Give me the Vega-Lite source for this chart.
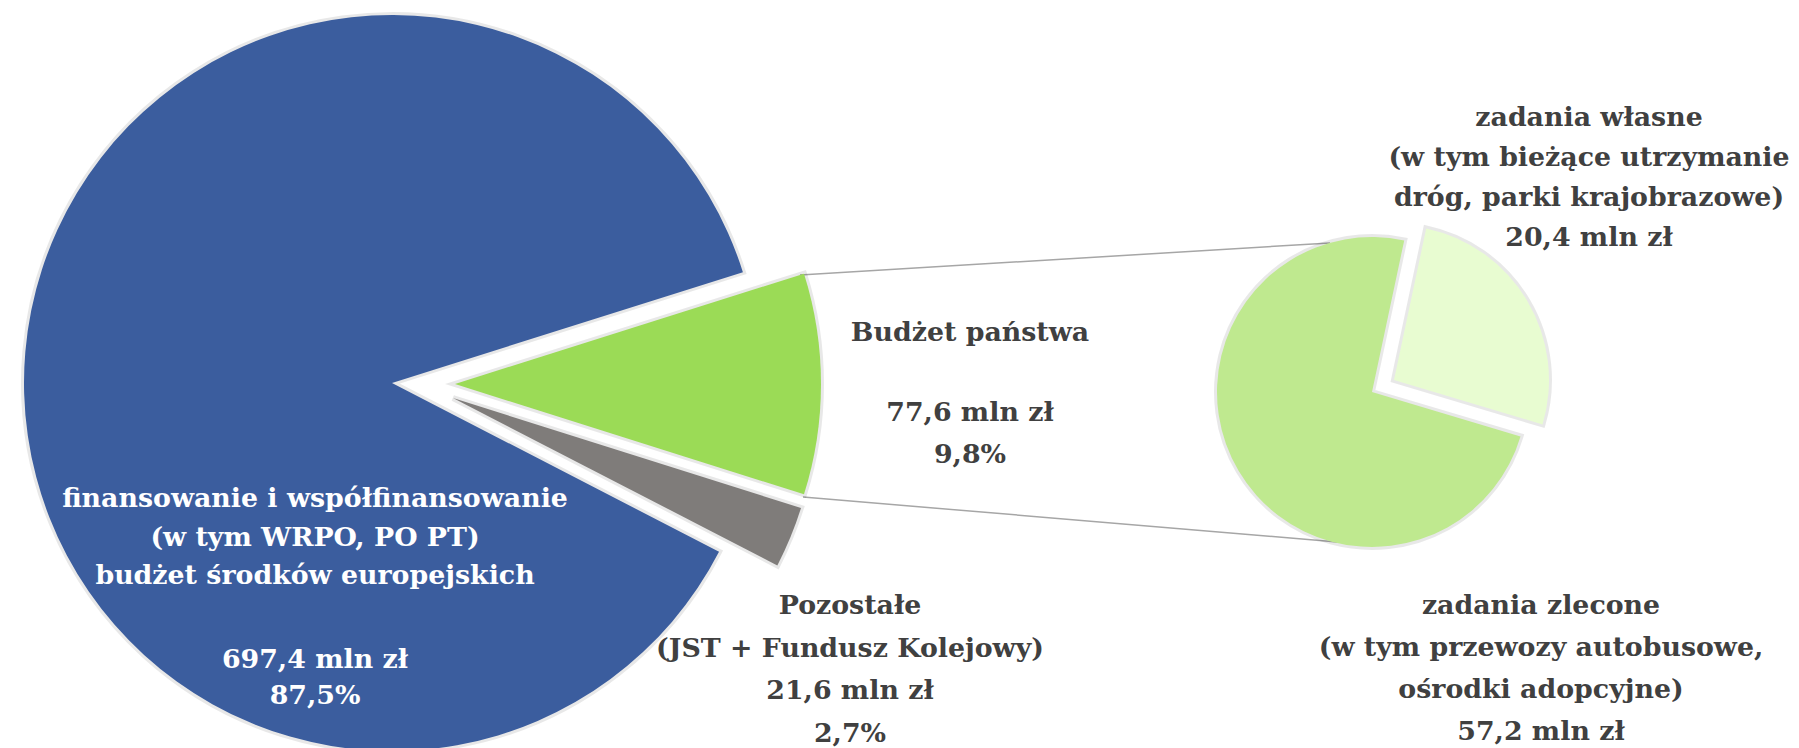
{
  "$schema": "https://vega.github.io/schema/vega-lite/v6.json",
  "width": 1799,
  "height": 748,
  "padding": 0,
  "autosize": {"type": "none"},
  "background": "white",
  "config": {"view": {"stroke": null}},
  "datasets": {
    "slices": [
      {"pie": "main", "name": "Budżet państwa", "value": 77.6, "order": 1, "title": "Budżet państwa", "amount": "77,6 mln zł\n9,8%"},
      {"pie": "main", "name": "Pozostałe", "value": 21.6, "order": 2, "title": "Pozostałe\n(JST + Fundusz Kolejowy)\n21,6 mln zł\n2,7%", "amount": ""},
      {"pie": "main", "name": "budżet środków europejskich", "value": 697.4, "order": 3, "title": "finansowanie i współfinansowanie\n(w tym WRPO, PO PT)\nbudżet środków europejskich", "amount": "697,4 mln zł\n87,5%"},
      {"pie": "detail", "name": "zadania własne", "value": 20.4, "order": 1, "title": "zadania własne\n(w tym bieżące utrzymanie\ndróg, parki krajobrazowe)\n20,4 mln zł", "amount": ""},
      {"pie": "detail", "name": "zadania zlecone", "value": 57.2, "order": 2, "title": "zadania zlecone\n(w tym przewozy autobusowe,\nośrodki adopcyjne)\n57,2 mln zł", "amount": ""}
    ],
    "links": [
      {"end": "start"},
      {"end": "finish"}
    ]
  },
  "layer": [
    {
      "data": {"name": "links"},
      "mark": {"type": "line", "stroke": "#A6A6A6", "strokeWidth": 1.5},
      "encoding": {
        "x": {"field": "end", "type": "nominal", "scale": {"type": "point", "domain": ["start", "finish"], "range": [800, 1330], "padding": 0}, "axis": null},
        "y": {"field": "end", "type": "nominal", "scale": {"type": "point", "domain": ["start", "finish"], "range": [275, 243], "padding": 0}, "axis": null}
      }
    },
    {
      "data": {"name": "links"},
      "mark": {"type": "line", "stroke": "#A6A6A6", "strokeWidth": 1.5},
      "encoding": {
        "x": {"field": "end", "type": "nominal", "scale": {"type": "point", "domain": ["start", "finish"], "range": [803, 1337], "padding": 0}, "axis": null},
        "y": {"field": "end", "type": "nominal", "scale": {"type": "point", "domain": ["start", "finish"], "range": [497, 542], "padding": 0}, "axis": null}
      }
    },
    {
      "data": {"name": "slices"},
      "transform": [
        {"stack": "value", "groupby": ["pie"], "sort": [{"field": "order"}], "offset": "normalize", "as": ["t0", "t1"]}
      ],
      "encoding": {
        "x": {"field": "pie", "type": "nominal", "scale": {"type": "point", "domain": ["main", "detail"], "range": [392, 1372], "padding": 0}, "axis": null},
        "y": {"field": "pie", "type": "nominal", "scale": {"type": "point", "domain": ["main", "detail"], "range": [383, 392], "padding": 0}, "axis": null}
      },
      "layer": [
        {
          "transform": [{"filter": "datum.name === 'budżet środków europejskich'"}],
          "mark": {"type": "arc", "outerRadius": 368, "thetaOffset": 1.26475, "theta2Offset": 1.26475, "fill": "transparent", "stroke": "#000000", "strokeOpacity": 0.09, "strokeWidth": 6},
          "encoding": {
            "theta": {"field": "t0", "type": "quantitative", "scale": {"domain": [0, 1], "range": [0, 6.283185]}},
            "theta2": {"field": "t1"}
          }
        },
        {
          "transform": [{"filter": "datum.name === 'Budżet państwa'"}],
          "mark": {"type": "arc", "outerRadius": 366, "thetaOffset": 1.26475, "theta2Offset": 1.26475, "xOffset": 63, "yOffset": 1, "fill": "transparent", "stroke": "#000000", "strokeOpacity": 0.09, "strokeWidth": 6},
          "encoding": {
            "theta": {"field": "t0", "type": "quantitative"},
            "theta2": {"field": "t1"}
          }
        },
        {
          "transform": [{"filter": "datum.name === 'Pozostałe'"}],
          "mark": {"type": "arc", "outerRadius": 365, "thetaOffset": 1.26475, "theta2Offset": 1.26475, "xOffset": 61, "yOffset": 15, "fill": "transparent", "stroke": "#000000", "strokeOpacity": 0.09, "strokeWidth": 6},
          "encoding": {
            "theta": {"field": "t0", "type": "quantitative"},
            "theta2": {"field": "t1"}
          }
        },
        {
          "transform": [{"filter": "datum.name === 'zadania zlecone'"}],
          "mark": {"type": "arc", "outerRadius": 155, "thetaOffset": 0.2094, "theta2Offset": 0.2094, "fill": "transparent", "stroke": "#000000", "strokeOpacity": 0.09, "strokeWidth": 6},
          "encoding": {
            "theta": {"field": "t0", "type": "quantitative"},
            "theta2": {"field": "t1"}
          }
        },
        {
          "transform": [{"filter": "datum.name === 'zadania własne'"}],
          "mark": {"type": "arc", "outerRadius": 155, "thetaOffset": 0.2094, "theta2Offset": 0.2094, "xOffset": 22, "yOffset": -12, "fill": "transparent", "stroke": "#000000", "strokeOpacity": 0.09, "strokeWidth": 6},
          "encoding": {
            "theta": {"field": "t0", "type": "quantitative"},
            "theta2": {"field": "t1"}
          }
        },
        {
          "transform": [{"filter": "datum.name === 'budżet środków europejskich'"}],
          "mark": {"type": "arc", "outerRadius": 368, "thetaOffset": 1.26475, "theta2Offset": 1.26475},
          "encoding": {
            "theta": {"field": "t0", "type": "quantitative"},
            "theta2": {"field": "t1"},
            "color": {"field": "name", "type": "nominal", "legend": null, "scale": {"domain": ["budżet środków europejskich", "Budżet państwa", "Pozostałe", "zadania zlecone", "zadania własne"], "range": ["#3B5D9E", "#9BDB56", "#7F7C7A", "#BFE98F", "#E8FCD1"]}}
          }
        },
        {
          "transform": [{"filter": "datum.name === 'Budżet państwa'"}],
          "mark": {"type": "arc", "outerRadius": 366, "thetaOffset": 1.26475, "theta2Offset": 1.26475, "xOffset": 63, "yOffset": 1},
          "encoding": {
            "theta": {"field": "t0", "type": "quantitative"},
            "theta2": {"field": "t1"},
            "color": {"field": "name", "type": "nominal", "legend": null}
          }
        },
        {
          "transform": [{"filter": "datum.name === 'Pozostałe'"}],
          "mark": {"type": "arc", "outerRadius": 365, "thetaOffset": 1.26475, "theta2Offset": 1.26475, "xOffset": 61, "yOffset": 15},
          "encoding": {
            "theta": {"field": "t0", "type": "quantitative"},
            "theta2": {"field": "t1"},
            "color": {"field": "name", "type": "nominal", "legend": null}
          }
        },
        {
          "transform": [{"filter": "datum.name === 'zadania zlecone'"}],
          "mark": {"type": "arc", "outerRadius": 155, "thetaOffset": 0.2094, "theta2Offset": 0.2094},
          "encoding": {
            "theta": {"field": "t0", "type": "quantitative"},
            "theta2": {"field": "t1"},
            "color": {"field": "name", "type": "nominal", "legend": null}
          }
        },
        {
          "transform": [{"filter": "datum.name === 'zadania własne'"}],
          "mark": {"type": "arc", "outerRadius": 155, "thetaOffset": 0.2094, "theta2Offset": 0.2094, "xOffset": 22, "yOffset": -12},
          "encoding": {
            "theta": {"field": "t0", "type": "quantitative"},
            "theta2": {"field": "t1"},
            "color": {"field": "name", "type": "nominal", "legend": null}
          }
        },
        {
          "transform": [{"filter": "datum.name === 'budżet środków europejskich'"}],
          "mark": {"type": "text", "font": "DejaVu Serif", "fontWeight": "bold", "fontSize": 26.8, "align": "center", "baseline": "alphabetic", "lineBreak": "\n", "lineHeight": 38.5, "fill": "#FFFFFF", "dx": -77, "dy": 124},
          "encoding": {"text": {"field": "title"}}
        },
        {
          "transform": [{"filter": "datum.name === 'budżet środków europejskich'"}],
          "mark": {"type": "text", "font": "DejaVu Serif", "fontWeight": "bold", "fontSize": 26.8, "align": "center", "baseline": "alphabetic", "lineBreak": "\n", "lineHeight": 36, "fill": "#FFFFFF", "dx": -77, "dy": 285},
          "encoding": {"text": {"field": "amount"}}
        },
        {
          "transform": [{"filter": "datum.name === 'Budżet państwa'"}],
          "mark": {"type": "text", "font": "DejaVu Serif", "fontWeight": "bold", "fontSize": 26.8, "align": "center", "baseline": "alphabetic", "lineBreak": "\n", "lineHeight": 38, "fill": "#404040", "dx": 578, "dy": -42},
          "encoding": {"text": {"field": "title"}}
        },
        {
          "transform": [{"filter": "datum.name === 'Budżet państwa'"}],
          "mark": {"type": "text", "font": "DejaVu Serif", "fontWeight": "bold", "fontSize": 26.8, "align": "center", "baseline": "alphabetic", "lineBreak": "\n", "lineHeight": 42, "fill": "#404040", "dx": 578, "dy": 38},
          "encoding": {"text": {"field": "amount"}}
        },
        {
          "transform": [{"filter": "datum.name === 'Pozostałe'"}],
          "mark": {"type": "text", "font": "DejaVu Serif", "fontWeight": "bold", "fontSize": 26.8, "align": "center", "baseline": "alphabetic", "lineBreak": "\n", "lineHeight": 42.5, "fill": "#404040", "dx": 458, "dy": 231},
          "encoding": {"text": {"field": "title"}}
        },
        {
          "transform": [{"filter": "datum.name === 'zadania własne'"}],
          "mark": {"type": "text", "font": "DejaVu Serif", "fontWeight": "bold", "fontSize": 26.8, "align": "center", "baseline": "alphabetic", "lineBreak": "\n", "lineHeight": 40, "fill": "#404040", "dx": 217, "dy": -266},
          "encoding": {"text": {"field": "title"}}
        },
        {
          "transform": [{"filter": "datum.name === 'zadania zlecone'"}],
          "mark": {"type": "text", "font": "DejaVu Serif", "fontWeight": "bold", "fontSize": 26.8, "align": "center", "baseline": "alphabetic", "lineBreak": "\n", "lineHeight": 42, "fill": "#404040", "dx": 169, "dy": 222},
          "encoding": {"text": {"field": "title"}}
        }
      ]
    }
  ],
  "resolve": {"scale": {"x": "independent", "y": "independent"}}
}
